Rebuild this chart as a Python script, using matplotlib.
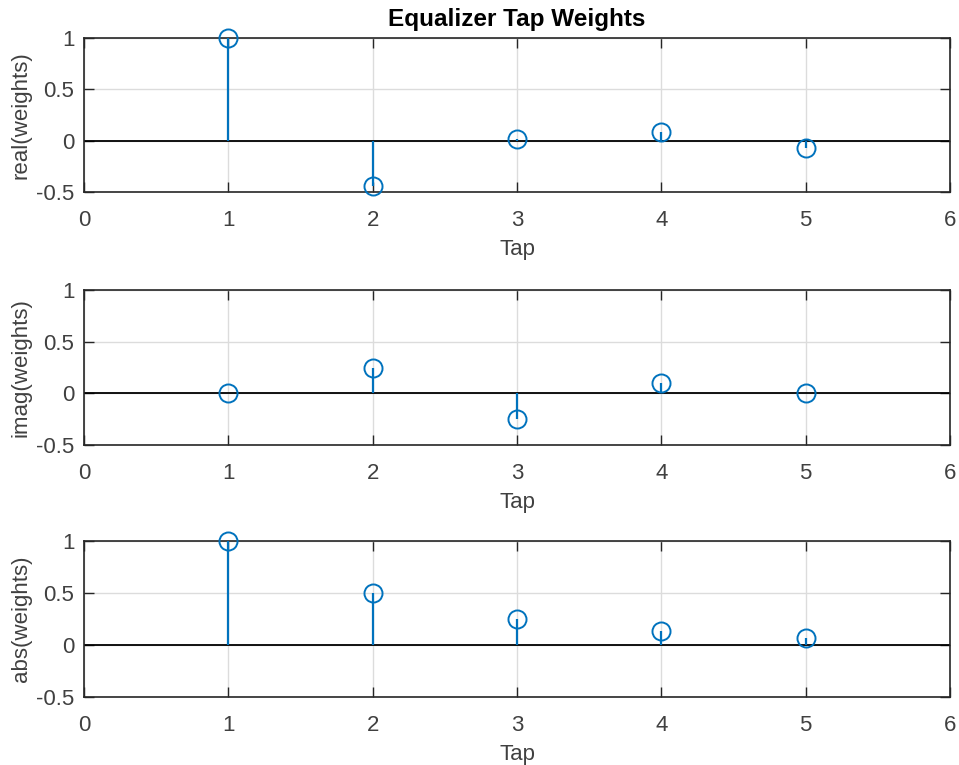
import numpy as np
import matplotlib
matplotlib.use("Agg")
import matplotlib.pyplot as plt

plt.rcParams['font.family'] = ['Liberation Sans', 'DejaVu Sans']

taps = [1, 2, 3, 4, 5]
real_w = [1.0, -0.44, 0.02, 0.08, -0.07]
imag_w = [0.0, 0.25, -0.25, 0.10, 0.0]
abs_w = [1.0, 0.50, 0.25, 0.13, 0.065]

panels = [
    (real_w, 'real(weights)'),
    (imag_w, 'imag(weights)'),
    (abs_w, 'abs(weights)'),
]

blue = '#0072BD'
dark = '#262626'
txt = '#404040'

fig = plt.figure(figsize=(9.59, 7.65), dpi=100)
W, H = 959, 765
# axes boxes in pixels: left, top, right, bottom
boxes = [(84, 38, 950, 192), (84, 290, 950, 445), (84, 541, 950, 697)]

for i, ((vals, ylab), (l, t, r, b)) in enumerate(zip(panels, boxes)):
    ax = fig.add_axes([l / W, 1 - b / H, (r - l) / W, (b - t) / H])
    ax.grid(True, color='#dcdcdc', linewidth=1.0)
    ax.set_axisbelow(True)
    ax.axhline(0, color='black', linewidth=1.3, zorder=2)
    markers, stems, base = ax.stem(taps, vals, linefmt='-', markerfmt='o', basefmt=' ')
    stems.set_color(blue)
    stems.set_linewidth(1.6)
    stems.set_zorder(3)
    markers.set_markerfacecolor('none')
    markers.set_markeredgecolor(blue)
    markers.set_markersize(13)
    markers.set_markeredgewidth(1.4)
    markers.set_zorder(4)
    markers.set_clip_on(False)
    ax.set_xlim(0, 6)
    ax.set_ylim(-0.5, 1)
    ax.set_xticks(range(7))
    ax.set_yticks([-0.5, 0, 0.5, 1])
    ax.set_yticklabels(['-0.5', '0', '0.5', '1'])
    ax.tick_params(direction='in', top=True, right=True, length=7, width=1.0,
                   colors=dark, labelsize=16, labelcolor=txt)
    ax.tick_params(axis='x', pad=13)
    ax.tick_params(axis='y', pad=7)
    for s in ax.spines.values():
        s.set_color(dark)
        s.set_linewidth(1.2)
    ax.set_xlabel('Tap', fontsize=16, color=txt, labelpad=6)
    ax.set_ylabel(ylab, fontsize=16, color=txt, labelpad=3)
    if i == 0:
        ax.set_title('Equalizer Tap Weights', fontsize=17.5, fontweight='bold',
                     color='black', pad=8.5)

fig.savefig('out.png', dpi=100, facecolor='white')
